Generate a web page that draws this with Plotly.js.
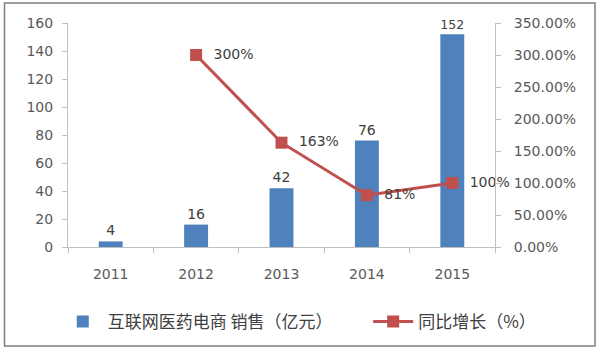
<!DOCTYPE html>
<html><head><meta charset="utf-8">
<script src="https://cdn.plot.ly/plotly-3.0.1.min.js"></script>
<style>html,body{margin:0;padding:0;background:#fff}#chart{width:600px;height:351px}</style>
</head><body><div id="chart"></div>
<script>
const years = ['2011','2012','2013','2014','2015'];
const sales = [4, 16, 42, 76, 152];
const growthYears = ['2012','2013','2014','2015'];
const growth = [3.00, 1.63, 0.81, 1.00];
const growthLabels = ['300%','163%','81%','100%'];
const salesName = '互联网医药电商 销售（亿元）';
const growthName = '同比增长（%）';

const fontFam = '"DejaVu Sans", "Noto Sans CJK SC", sans-serif';
const legFont = {size:17,color:'#404040',family:'"Noto Sans CJK SC", "DejaVu Sans", sans-serif'};
const traces = [
  {type:'bar', x:years, y:sales, name:salesName, marker:{color:'#4f81bd'}, legend:'legend',
   width:0.28, text:sales.map(String), textposition:'outside', cliponaxis:false,
   textfont:{size:14,color:'#404040',family:fontFam}},
  {type:'scatter', mode:'lines+markers+text', x:growthYears, y:growth, yaxis:'y2', name:growthName,
   legend:'legend2',
   line:{color:'#c0504d',width:3}, marker:{symbol:'square',size:12,color:'#c0504d'},
   text:growthLabels.map(s => '  ' + s), textposition:'middle right', cliponaxis:false,
   textfont:{size:14,color:'#404040',family:fontFam}}
];
const layout = {
  width:600, height:351,
  margin:{l:68, r:105, t:23, b:104, autoexpand:false},
  paper_bgcolor:'#fff', plot_bgcolor:'#fff',
  font:{family:fontFam, size:14, color:'#595959'},
  showlegend:true,
  legend:{orientation:'h', x:-0.024, xanchor:'left', y:-0.335, yanchor:'middle',
          font:legFont, itemwidth:40, bgcolor:'rgba(0,0,0,0)'},
  legend2:{orientation:'h', x:0.703, xanchor:'left', y:-0.335, yanchor:'middle',
          font:legFont, itemwidth:40, bgcolor:'rgba(0,0,0,0)'},
  xaxis:{type:'category', showline:true, linecolor:'#bfbfbf', linewidth:1,
         ticks:'outside', tickson:'boundaries', ticklen:5, tickcolor:'#bfbfbf',
         showgrid:false, zeroline:false, tickfont:{size:14}, ticklabelstandoff:14},
  yaxis:{range:[0,160], dtick:20, showline:true, linecolor:'#bfbfbf', ticks:'outside',
         ticklen:5, tickcolor:'#bfbfbf', showgrid:false, zeroline:false, tickfont:{size:14},
         ticklabelstandoff:6},
  yaxis2:{overlaying:'y', side:'right', range:[0,3.5], dtick:0.5, tickformat:'.2%',
          showline:true, linecolor:'#bfbfbf', ticks:'outside', ticklen:5, tickcolor:'#bfbfbf',
          showgrid:false, zeroline:false, tickfont:{size:14}, ticklabelstandoff:10},
  shapes:[{type:'rect', xref:'paper', yref:'paper', x0:-0.1487, x1:1.2342, y0:-0.442, y1:1.0893,
           line:{color:'#7f7f7f', width:1.5}, fillcolor:'rgba(0,0,0,0)'}]
};
Plotly.newPlot('chart', traces, layout, {displayModeBar:false, staticPlot:true});
</script></body></html>
